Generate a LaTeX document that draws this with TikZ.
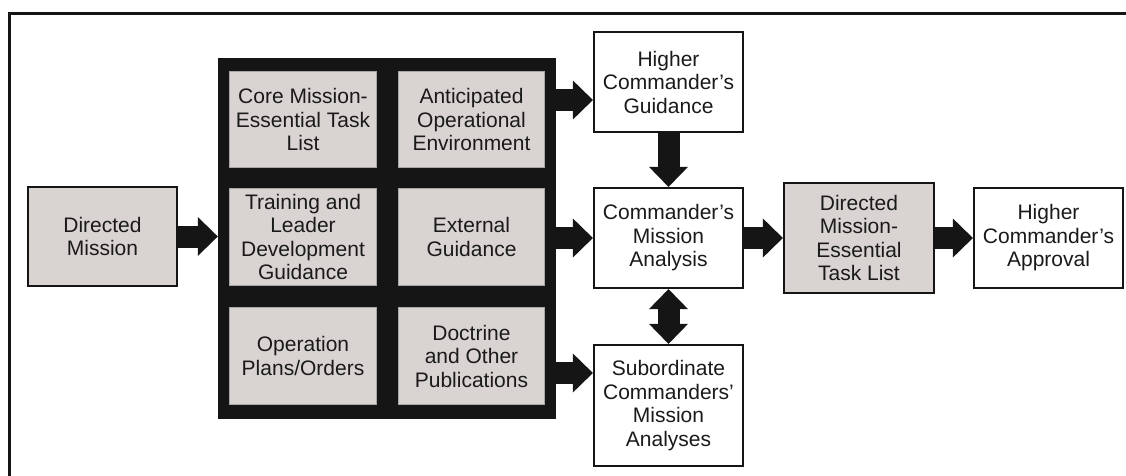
\documentclass[tikz,border=0pt]{standalone}
\usepackage{fontspec}
\setmainfont{Liberation Sans}
\usetikzlibrary{arrows.meta}
\definecolor{cellgray}{HTML}{D9D4D1}
\definecolor{inkblack}{HTML}{151515}
\definecolor{txt}{HTML}{1A1A1A}
\begin{document}
\begin{tikzpicture}[x=1pt,y=-1pt,
  every node/.style={font=\fontsize{21}{23.5}\selectfont, text=txt, align=center, inner sep=0pt},
  whitebox/.style={draw=inkblack, line width=2.2pt, fill=white, minimum width=149pt},
  graybox/.style={draw=inkblack, line width=2.2pt, fill=cellgray, minimum width=149pt},
  cellbox/.style={draw=gray!70, line width=0.8pt, fill=cellgray},
  fatarrow/.style={draw=inkblack, line width=22pt, -{Triangle[length=20pt,width=39pt,line width=0pt]}},
  fatdouble/.style={draw=inkblack, line width=22pt, {Triangle[length=20pt,width=39pt,line width=0pt]}-{Triangle[length=20pt,width=39pt,line width=0pt]}}
]
\useasboundingbox (0,0) rectangle (1126,476);
% frame
\draw[line width=3pt, inkblack] (9.5,477) -- (9.5,13.5) -- (1127,13.5);

% panel
\node[fill=inkblack, minimum width=338pt, minimum height=361pt] (panel) at (387,238.5) {};
\node[cellbox, minimum width=147pt, minimum height=96pt] (c11) at (303,119.5) {Core Mission-\\Essential Task\\List};
\node[cellbox, minimum width=146pt, minimum height=96pt] (c12) at (471.5,119.5) {Anticipated\\Operational\\Environment};
\node[cellbox, minimum width=147pt, minimum height=97pt] (c21) at (303,237) {Training and\\Leader\\Development\\Guidance};
\node[cellbox, minimum width=146pt, minimum height=97pt] (c22) at (471.5,237) {External\\Guidance};
\node[cellbox, minimum width=147pt, minimum height=97pt] (c31) at (303,356) {Operation\\Plans/Orders};
\node[cellbox, minimum width=146pt, minimum height=97pt] (c32) at (471.5,356) {Doctrine\\and Other\\Publications};

% boxes
\node[graybox, minimum height=99pt] (dm) at (102.5,236.5) {Directed\\Mission};
\node[whitebox, minimum height=100pt] (hcg) at (668.5,82) {Higher\\Commander’s\\Guidance};
\node[whitebox, minimum height=100pt] (cma) at (668.5,238) {Commander’s\\Mission\\Analysis};
\node[whitebox, minimum height=121pt] (sub) at (668.5,405.5) {Subordinate\\Commanders’\\Mission\\Analyses};
\node[graybox, minimum width=150pt, minimum height=110pt] (dmetl) at (859,238) {Directed\\Mission-\\Essential\\Task List};
\node[whitebox, minimum height=100pt] (hca) at (1048.5,238) {Higher\\Commander’s\\Approval};

% row references for arrows
\coordinate (r1) at (0,100);
\coordinate (r3) at (0,373);

% arrows
\draw[fatarrow] (dm.east) -- (panel.west |- dm.east);
\draw[fatarrow] (panel.east |- r1) -- (hcg.west |- r1);
\draw[fatarrow] (panel.east |- cma.west) -- (cma.west);
\draw[fatarrow] (panel.east |- r3) -- (sub.west |- r3);
\draw[fatarrow] (hcg.south) -- (cma.north);
\draw[fatdouble] (cma.south) -- (sub.north);
\draw[fatarrow] (cma.east) -- (dmetl.west);
\draw[fatarrow] (dmetl.east) -- (hca.west);
\end{tikzpicture}
\end{document}
